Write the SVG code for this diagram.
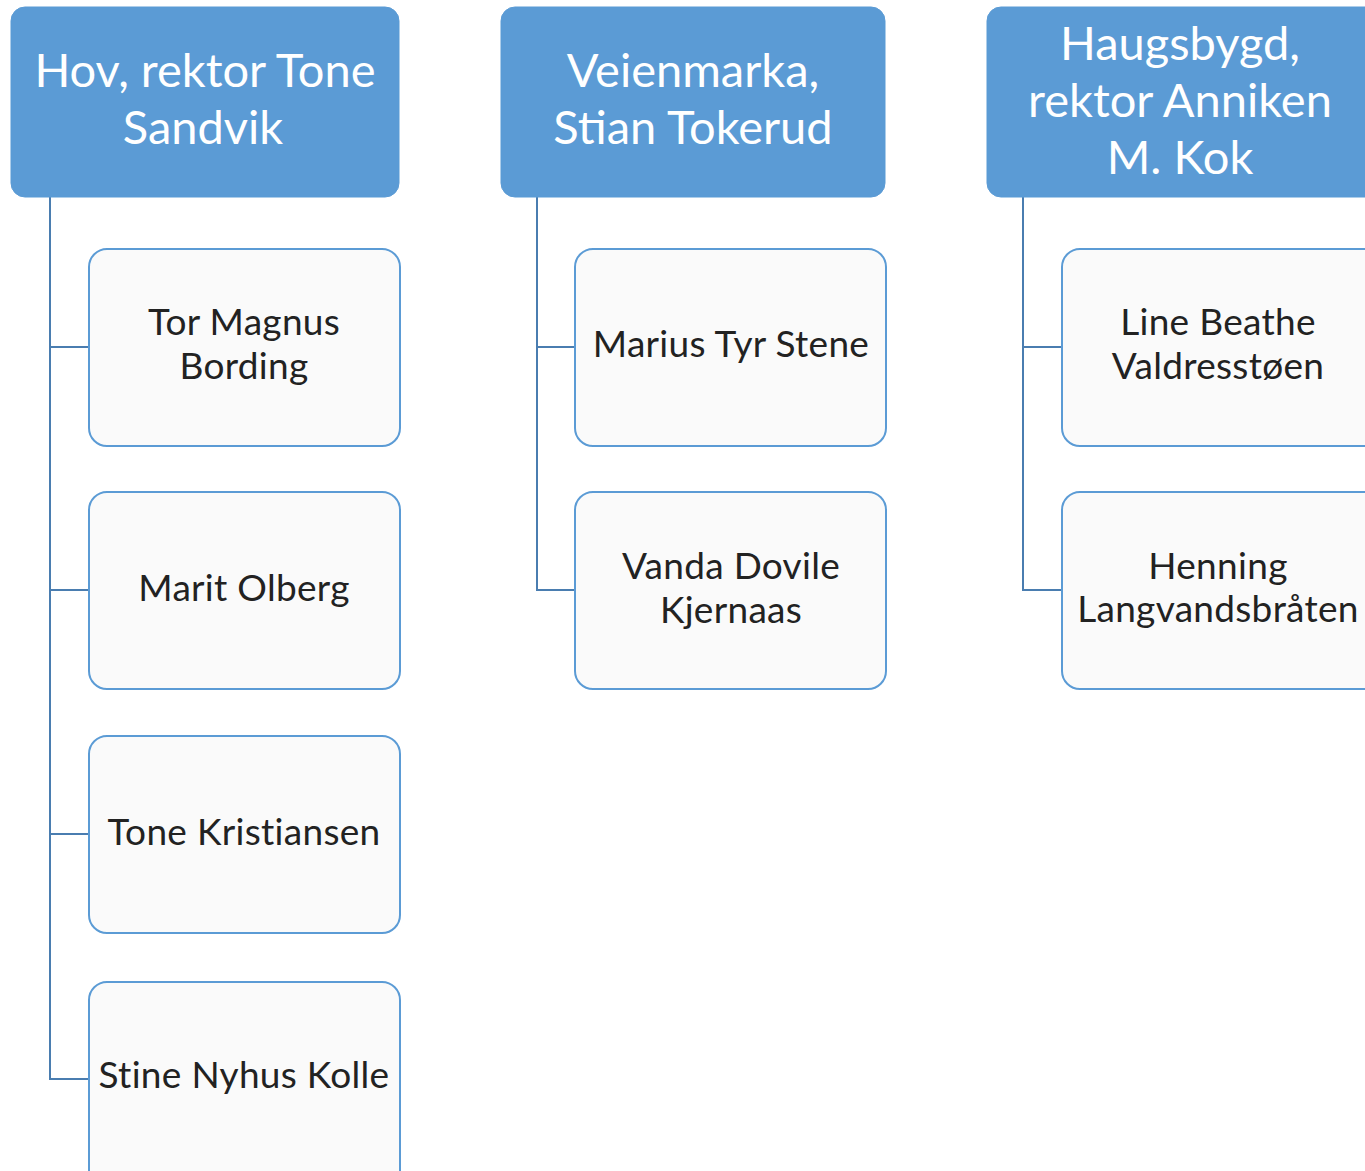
<svg xmlns="http://www.w3.org/2000/svg" width="1365" height="1171" viewBox="0 0 1365 1171">
<style>
.hd{fill:#5B9BD5;stroke:#5B9BD5;stroke-width:1}
.ch{fill:#FAFAFA;stroke:#5B9BD5;stroke-width:2}
.ht{font-family:Lato,"Open Sans",sans-serif;font-size:47px;fill:#FFFFFF;text-anchor:middle}
.ct{font-family:Lato,"Open Sans",sans-serif;font-size:37px;letter-spacing:0.3px;fill:#222222;text-anchor:middle}
.cn{fill:none;stroke:#4A7DB0;stroke-width:2}
</style>
<rect width="1365" height="1171" fill="#FFFFFF"/>
<g id="connectors">
<path class="cn" d="M50 197V1079H89M50 347H89M50 590H89M50 834H89"/>
<path class="cn" d="M537 197V590H575M537 347H575"/>
<path class="cn" d="M1023 197V590H1062M1023 347H1062"/>
</g>
<g id="hov">
<rect class="hd" x="11" y="7" width="388" height="190" rx="14"/>
<text class="ht" x="205" y="87">Hov, rektor Tone</text>
<text class="ht" x="203" y="144">Sandvik</text>
</g>
<g id="veienmarka">
<rect class="hd" x="501" y="7" width="384" height="190" rx="14"/>
<text class="ht" x="693" y="87">Veienmarka,</text>
<text class="ht" x="693" y="144">Stian Tokerud</text>
</g>
<g id="haugsbygd">
<rect class="hd" x="987" y="7" width="400" height="190" rx="14"/>
<text class="ht" x="1180" y="60">Haugsbygd,</text>
<text class="ht" x="1180" y="117">rektor Anniken</text>
<text class="ht" x="1180" y="174">M. Kok</text>
</g>
<g id="tor">
<rect class="ch" x="89" y="249" width="311" height="197" rx="18"/>
<text class="ct" x="244" y="335">Tor Magnus</text>
<text class="ct" x="244" y="379">Bording</text>
</g>
<g id="marit">
<rect class="ch" x="89" y="492" width="311" height="197" rx="18"/>
<text class="ct" x="244" y="601">Marit Olberg</text>
</g>
<g id="tone">
<rect class="ch" x="89" y="736" width="311" height="197" rx="18"/>
<text class="ct" x="244" y="845">Tone Kristiansen</text>
</g>
<g id="stine">
<rect class="ch" x="89" y="982" width="311" height="210" rx="18"/>
<text class="ct" x="244" y="1088">Stine Nyhus Kolle</text>
</g>
<g id="marius">
<rect class="ch" x="575" y="249" width="311" height="197" rx="18"/>
<text class="ct" x="731" y="357">Marius Tyr Stene</text>
</g>
<g id="vanda">
<rect class="ch" x="575" y="492" width="311" height="197" rx="18"/>
<text class="ct" x="731" y="579">Vanda Dovile</text>
<text class="ct" x="731" y="623">Kjernaas</text>
</g>
<g id="line">
<rect class="ch" x="1062" y="249" width="320" height="197" rx="18"/>
<text class="ct" x="1218" y="335">Line Beathe</text>
<text class="ct" x="1218" y="379">Valdresstøen</text>
</g>
<g id="henning">
<rect class="ch" x="1062" y="492" width="320" height="197" rx="18"/>
<text class="ct" x="1218" y="579">Henning</text>
<text class="ct" x="1218" y="622">Langvandsbråten</text>
</g>
</svg>
